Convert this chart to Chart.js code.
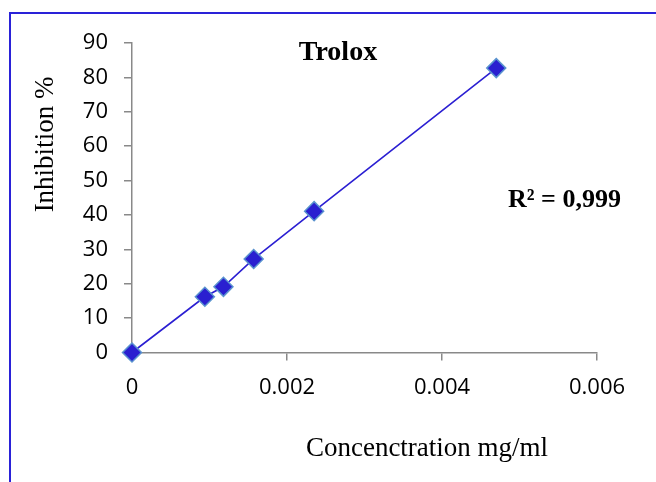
<!DOCTYPE html>
<html>
<head>
<meta charset="utf-8">
<script src="https://cdn.jsdelivr.net/npm/chart.js@4.4.1/dist/chart.umd.min.js"></script>
<style>
  html, body { margin: 0; padding: 0; background: #ffffff; }
  #wrap { position: relative; width: 656px; height: 482px; }
</style>
</head>
<body>
<div id="wrap"><canvas id="c" width="656" height="482"></canvas></div>
<script>
// ---- data ----
const concentrations = [0, 0.00094, 0.00118, 0.00157, 0.00235, 0.0047];
const inhibition     = [0, 16.2, 19.1, 27.2, 41.1, 82.7];
const xTicks = [0, 0.002, 0.004, 0.006];
const yTicks = [0, 10, 20, 30, 40, 50, 60, 70, 80, 90];
const chartTitle = 'Trolox';
const rSquaredText = 'R\u00B2 = 0,999';
const xTitle = 'Concenctration mg/ml';
const yTitle = 'Inhibition %';

const points = concentrations.map((x, i) => ({ x: x, y: inhibition[i] }));

const AXIS_GREY = '#898989';
const BLUE = '#2b1fd2';

const decor = {
  id: 'decor',
  beforeDraw(chart) {
    const ctx = chart.ctx;
    ctx.save();
    ctx.strokeStyle = '#2a22d8';
    ctx.lineWidth = 2;
    ctx.strokeRect(10, 13, 700, 520);
    ctx.restore();
  },
  afterDraw(chart) {
    const ctx = chart.ctx;
    ctx.save();
    ctx.fillStyle = '#000000';
    ctx.textBaseline = 'alphabetic';
    // title
    ctx.font = 'bold 28px "Liberation Serif", "Times New Roman", serif';
    ctx.textAlign = 'center';
    ctx.fillText(chartTitle, 338, 60);
    // R squared
    ctx.font = 'bold 26px "Liberation Serif", "Times New Roman", serif';
    ctx.textAlign = 'left';
    ctx.fillText(rSquaredText, 508, 207);
    // x title
    ctx.font = '27px "Liberation Serif", "Times New Roman", serif';
    ctx.textAlign = 'center';
    ctx.fillText(xTitle, 427, 456);
    // y title
    ctx.translate(53, 144.5);
    ctx.rotate(-Math.PI / 2);
    ctx.textAlign = 'center';
    ctx.fillText(yTitle, 0, 0);
    ctx.restore();
  }
};

new Chart(document.getElementById('c'), {
  type: 'scatter',
  data: {
    datasets: [{
      data: points,
      showLine: true,
      borderColor: BLUE,
      borderWidth: 1.6,
      pointStyle: 'rectRot',
      pointRadius: 9.5,
      pointHoverRadius: 9.5,
      pointBackgroundColor: '#2a1fd0',
      pointBorderColor: '#5a93cf',
      pointBorderWidth: 1.5,
      clip: false
    }]
  },
  options: {
    responsive: false,
    animation: false,
    devicePixelRatio: 1,
    layout: { padding: { left: 0, right: 59, top: 43, bottom: 0 } },
    plugins: {
      legend: { display: false },
      tooltip: { enabled: false },
      title: { display: false }
    },
    scales: {
      x: {
        type: 'linear',
        min: 0, max: 0.006,
        afterBuildTicks(scale) { scale.ticks = xTicks.map(v => ({ value: v })); },
        afterFit(scale) { scale.height = 482 - 352.5; },
        ticks: {
          color: '#000000',
          font: { family: '"Open Sans", Lato, sans-serif', size: 22 },
          padding: 14,
          maxRotation: 0,
          callback: (v) => String(v)
        },
        grid: { drawOnChartArea: false, drawTicks: true, tickLength: 8, color: AXIS_GREY, lineWidth: 1.5 },
        border: { display: true, color: AXIS_GREY, width: 1.5 }
      },
      y: {
        type: 'linear',
        min: 0, max: 90,
        afterBuildTicks(scale) { scale.ticks = yTicks.map(v => ({ value: v })); },
        afterFit(scale) { scale.width = 132; },
        ticks: {
          color: '#000000',
          font: { family: '"Open Sans", Lato, sans-serif', size: 22 },
          padding: 16,
          callback: (v) => String(v)
        },
        grid: { drawOnChartArea: false, drawTicks: true, tickLength: 8, color: AXIS_GREY, lineWidth: 1.5 },
        border: { display: true, color: AXIS_GREY, width: 1.5 }
      }
    }
  },
  plugins: [decor]
});
</script>
</body>
</html>
